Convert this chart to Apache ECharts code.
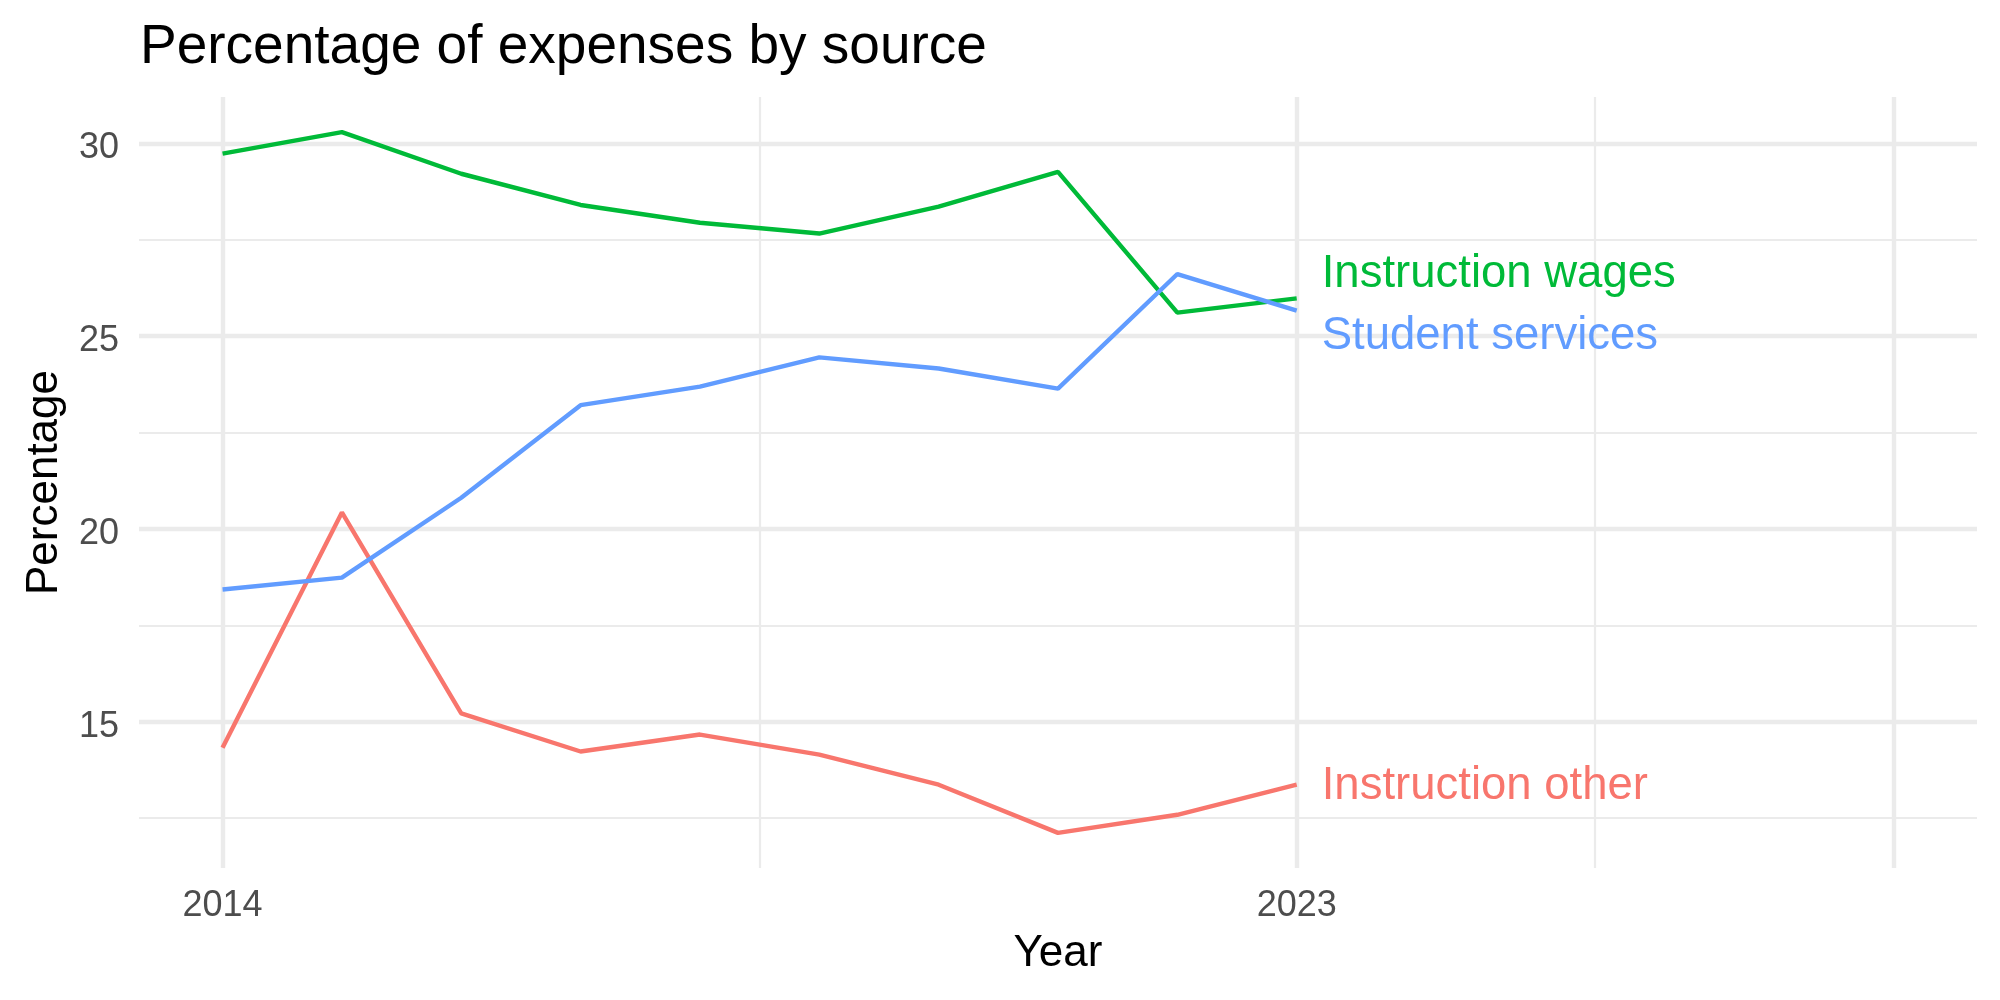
<!DOCTYPE html>
<html>
<head>
<meta charset="utf-8">
<title>Percentage of expenses by source</title>
<script src="https://cdn.jsdelivr.net/npm/echarts@6/dist/echarts.min.js"></script>
<style>
  html, body { margin: 0; padding: 0; background: #fff; }
  #main { width: 2000px; height: 1000px; }
</style>
</head>
<body>
<div id="main"></div>
<script>
// data
const years = [2014, 2015, 2016, 2017, 2018, 2019, 2020, 2021, 2022, 2023]
const instructionOther = [14.33, 20.43, 15.22, 14.23, 14.67, 14.15, 13.37, 12.12, 12.59, 13.37]
const instructionWages = [29.73, 30.29, 29.21, 28.40, 27.94, 27.66, 28.36, 29.26, 25.61, 25.98]
const studentServices = [18.43, 18.74, 20.81, 23.21, 23.69, 24.45, 24.16, 23.64, 26.61, 25.66]

// axis breaks
const xLabels = [2014, 2023]
const xMajorBreaks = [2014, 2023, 2028]
const xMinorBreaks = [2018.5, 2025.5]
const yLabels = [15, 20, 25, 30]
const yMinorBreaks = [12.5, 17.5, 22.5, 27.5]

const font = 'Liberation Sans, Arial, Helvetica, sans-serif'
const gridColor = '#EBEBEB'

function pairs(values) {
    return years.map((y, i) => [y, values[i]])
}

// grid lines drawn as mark lines so they can sit at irregular breaks
const gridLines = []
xMajorBreaks.forEach(v => gridLines.push({ xAxis: v, lineStyle: { width: 4.4 } }))
xMinorBreaks.forEach(v => gridLines.push({ xAxis: v, lineStyle: { width: 2.2 } }))
yLabels.forEach(v => gridLines.push({ yAxis: v, lineStyle: { width: 4.4 } }))
yMinorBreaks.forEach(v => gridLines.push({ yAxis: v, lineStyle: { width: 2.2 } }))

function lineSeries(name, values, color, offset) {
    return {
        name: name,
        type: 'line',
        z: 3,
        data: pairs(values),
        showSymbol: false,
        symbol: 'none',
        lineStyle: { color: color, width: 4.4 },
        itemStyle: { color: color },
        endLabel: {
            show: true,
            formatter: name,
            color: color,
            fontFamily: font,
            fontSize: 45.5,
            distance: 25,
            offset: offset
        }
    }
}

const chart = echarts.init(document.getElementById('main'), null, { renderer: 'canvas' })

chart.setOption({
    animation: false,
    backgroundColor: '#ffffff',
    title: {
        text: 'Percentage of expenses by source',
        left: 135,
        top: 15,
        textStyle: { fontFamily: font, fontSize: 55, fontWeight: 'normal', color: '#000', lineHeight: 55 }
    },
    grid: { left: 139, right: 23, top: 97, bottom: 132 },
    xAxis: {
        type: 'value',
        min: 2013.3,
        max: 2028.7,
        name: 'Year',
        nameLocation: 'middle',
        nameGap: 64,
        nameTextStyle: { fontFamily: font, fontSize: 44, color: '#000' },
        axisLine: { show: false },
        axisTick: { show: false },
        splitLine: { show: false },
        axisLabel: {
            customValues: xLabels,
            formatter: v => String(v),
            fontFamily: font,
            fontSize: 36,
            color: '#4D4D4D',
            margin: 20
        }
    },
    yAxis: {
        type: 'value',
        min: 11.21,
        max: 31.2,
        name: 'Percentage',
        nameLocation: 'middle',
        nameRotate: 90,
        nameGap: 72,
        nameTextStyle: { fontFamily: font, fontSize: 44, color: '#000' },
        axisLine: { show: false },
        axisTick: { show: false },
        splitLine: { show: false },
        axisLabel: {
            customValues: yLabels,
            formatter: v => String(v),
            fontFamily: font,
            fontSize: 36,
            color: '#4D4D4D',
            margin: 20,
            verticalAlign: 'top',
            lineHeight: 10
        }
    },
    series: [
        {
            name: 'grid',
            type: 'line',
            z: 1,
            data: [],
            silent: true,
            markLine: {
                z: 1,
                silent: true,
                symbol: 'none',
                label: { show: false },
                lineStyle: { color: gridColor, type: 'solid' },
                emphasis: { disabled: true },
                data: gridLines
            }
        },
        lineSeries('Instruction other', instructionOther, '#F8766D', [0, 2]),
        lineSeries('Instruction wages', instructionWages, '#00BA38', [0, -24]),
        lineSeries('Student services', studentServices, '#619CFF', [0, 26])
    ]
})
</script>
</body>
</html>
